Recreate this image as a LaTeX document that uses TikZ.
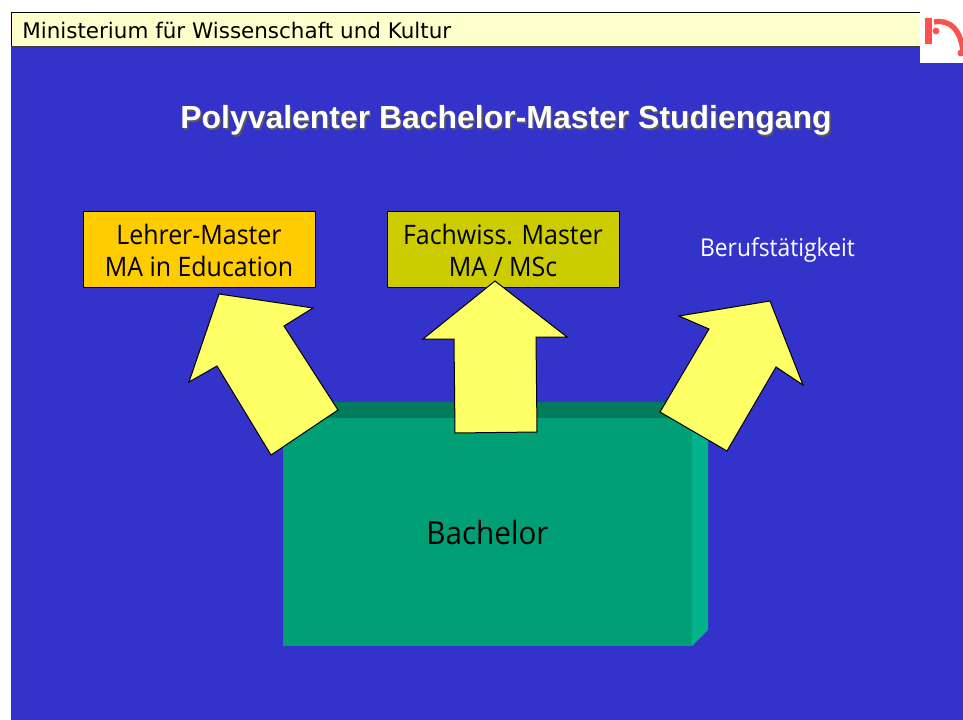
\documentclass[tikz,border=0pt]{standalone}
\usepackage{fontspec}
\setmainfont{Open Sans}[FakeStretch=0.93]
\newfontfamily\hdrfont{DejaVu Sans}
\newfontfamily\titlefont{Liberation Sans}[Scale=1]
\definecolor{bgblue}{HTML}{3333CC}
\definecolor{hdrfill}{HTML}{FFFFCC}
\definecolor{frontgreen}{HTML}{009F76}
\definecolor{topgreen}{HTML}{027B5C}
\definecolor{sidegreen}{HTML}{00B38B}
\definecolor{orangebox}{HTML}{FFCC00}
\definecolor{olivebox}{HTML}{CCCC00}
\definecolor{arrowyellow}{HTML}{FFFF66}
\definecolor{logored}{HTML}{FF5050}
\tikzset{
  x=0.75pt,y=-0.75pt,
  labelbox/.style={draw=black,line width=0.6pt,minimum width=174pt,minimum height=57pt,align=center,inner sep=0pt,font=\fontsize{20.1pt}{24pt}\selectfont,text=black},
  bigarrow/.style={draw=black,line width=0.75pt,fill=arrowyellow,line join=miter},
  plain/.style={draw=none,inner sep=0pt}
}
\begin{document}
\begin{tikzpicture}
\useasboundingbox (0,0) rectangle (963,720);
\fill[white] (0,0) rectangle (963,720);
\fill[bgblue] (11,47) rectangle (963,720);
% header
\path[fill=hdrfill] (11,12) rectangle (920,47);
\draw[black,line width=0.7pt] (11,47) -- (11,12) -- (920,12);
\draw[black!75,line width=0.9pt] (11,47) -- (920,47);
\node[plain,anchor=west,font=\hdrfont\fontsize{16.1pt}{20pt}\selectfont,text=black] (hdr) at (22,30.5) {Ministerium für Wissenschaft und Kultur};
% logo
\fill[white] (920,0) rectangle (963,63);
\fill[logored] (925,18) rectangle (932,44);
\fill[logored] (936,31) circle (3.4);
\draw[logored,line width=4pt] (934,22) .. controls (950,19) and (961,30) .. (963,52);
\fill[logored] (961,53) circle (3.5);
% title
\node[plain,font=\titlefont\bfseries\fontsize{23.95pt}{28pt}\selectfont,text=black!65] at (507.5,122) {Polyvalenter Bachelor-Master Studiengang};
\node[plain,font=\titlefont\bfseries\fontsize{23.95pt}{28pt}\selectfont,text=white] (title) at (506,120) {Polyvalenter Bachelor-Master Studiengang};
% bachelor block
\fill[topgreen] (283,418) -- (299,402) -- (708,402) -- (692,418) -- cycle;
\fill[sidegreen] (692,418) -- (708,402) -- (708,630) -- (692,646) -- cycle;
\node[fill=frontgreen,draw=none,minimum width=306.75pt,minimum height=171pt,inner sep=0pt,font=\fontsize{23.9pt}{28pt}\selectfont,text=black] (bachelor) at (487.5,532) {\rule{0pt}{19.6pt}Bachelor};
% boxes
\node[labelbox,fill=orangebox] (lehrer) at (199,249.5) {\rule{0pt}{17.4pt}Lehrer-Master\\MA in Education};
\node[labelbox,fill=olivebox] (fach) at (503,249.5) {\rule{0pt}{17.4pt}Fachwiss. Master\\MA / MSc};
\node[plain,font=\fontsize{18.4pt}{22pt}\selectfont,text=white] (beruf) at (777.5,250) {Berufstätigkeit};
% arrows
\draw[bigarrow] (219,294) -- (313,308) -- (284,326) -- (338,410) -- (271,455) -- (217,366) -- (189,382) -- cycle;
\draw[bigarrow] (495,281) -- (567,337) -- (536,337) -- (537,432) -- (455,433) -- (454,339) -- (423,339) -- cycle;
\draw[bigarrow] (770,301) -- (803,385) -- (776,367) -- (727,451) -- (660,412) -- (709,329) -- (679,316) -- cycle;
\end{tikzpicture}
\end{document}
